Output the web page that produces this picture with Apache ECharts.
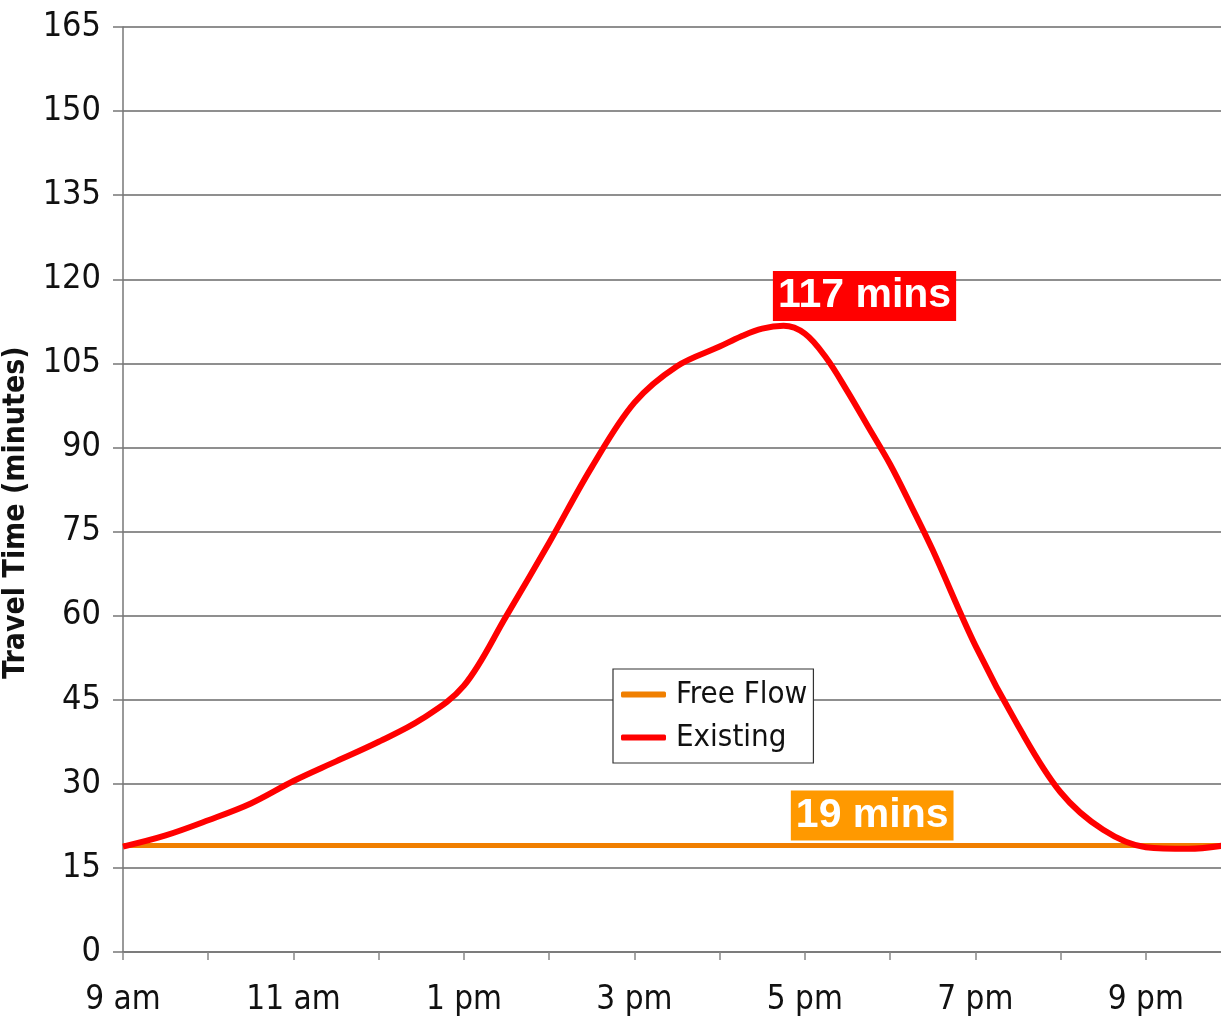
<!DOCTYPE html>
<html>
<head>
<meta charset="utf-8">
<title>Travel Time</title>
<script src="https://cdn.jsdelivr.net/npm/echarts@6/dist/echarts.min.js"></script>
<style>
  html, body { margin: 0; padding: 0; background: #ffffff; }
  #chart { width: 1221px; height: 1019px; }
</style>
</head>
<body>
<div id="chart"></div>
<script>
// Hour of day (24h clock) for each sample of the existing travel-time curve
const hours = [9, 9.5, 10, 10.5, 11, 11.5, 12, 12.5, 13, 13.5, 14, 14.5, 15, 15.5,
  16, 16.25, 16.5, 16.75, 17, 17.25, 17.5, 17.75, 18, 18.25, 18.5, 19, 19.5, 20, 20.5, 21, 21.5, 22];
// Existing travel time, minutes
const existingMins = [18.8, 20.8, 23.5, 26.5, 30.5, 34, 37.5, 41.5, 47.5, 60, 73, 86.5, 98, 104.5,
  108, 109.8, 111.2, 111.7, 110.3, 106, 100, 93.5, 87, 79.5, 71.7, 54.7, 40.4, 28.5, 21.8, 18.7, 18.4, 19.2];
// Free-flow travel time, minutes (constant through the day)
const freeFlowHours = [9, 22];
const freeFlowMins = 19;
// Peak travel time quoted in the callout
const peakMins = 117;

// Labelled hours on the time axis
const labelHours = [9, 11, 13, 15, 17, 19, 21];
const labelTexts = ['9 am', '11 am', '1 pm', '3 pm', '5 pm', '7 pm', '9 pm'];

const narrow = '"Liberation Sans Narrow", "DejaVu Sans Condensed", "Liberation Sans", sans-serif';
const boldSans = '"Liberation Sans", Arial, sans-serif';

const chart = echarts.init(document.getElementById('chart'), null, { renderer: 'canvas' });

const calloutLabel = (bg) => ({
  show: true,
  formatter: '{c} mins',
  fontFamily: boldSans,
  fontWeight: 'bold',
  fontSize: 41,
  lineHeight: 44,
  color: '#ffffff',
  backgroundColor: bg,
  padding: [3, 5, 3, 5]
});

chart.setOption({
  animation: false,
  backgroundColor: '#ffffff',
  grid: { left: 123, right: -10, top: 27, bottom: 67, containLabel: false, outerBoundsMode: 'none' },
  xAxis: {
    type: 'value',
    min: 9,
    max: 22,
    interval: 1,
    axisLine: { show: true, lineStyle: { color: '#777', width: 1.5 } },
    axisTick: { show: true, length: 8, lineStyle: { color: '#888', width: 1.5 } },
    splitLine: { show: false },
    axisLabel: {
      margin: 32,
      fontFamily: narrow,
      fontSize: 33,
      color: '#111',
      formatter: function (v) {
        const i = labelHours.indexOf(v);
        return i >= 0 ? labelTexts[i] : '';
      }
    }
  },
  yAxis: {
    type: 'value',
    min: 0,
    max: 165,
    interval: 15,
    name: 'Travel Time (minutes)',
    nameLocation: 'middle',
    nameGap: 92,
    nameRotate: 90,
    nameTextStyle: {
      fontFamily: narrow, fontWeight: 'bold', fontSize: 30, color: '#111',
      padding: [0, 46, 0, 0]
    },
    axisLine: { show: true, lineStyle: { color: '#777', width: 1.5 } },
    axisTick: { show: true, length: 10, lineStyle: { color: '#777', width: 1.5 } },
    splitLine: { show: true, lineStyle: { color: '#6a6a6a', width: 1.5 } },
    axisLabel: { margin: 22, fontFamily: narrow, fontSize: 34, color: '#111' }
  },
  legend: {
    data: ['Free Flow', 'Existing'],
    orient: 'vertical',
    left: 613,
    top: 669,
    padding: [10, 6, 10, 8],
    itemGap: 12,
    itemWidth: 45,
    itemHeight: 6,
    icon: 'roundRect',
    borderColor: '#333',
    borderWidth: 1.2,
    backgroundColor: '#ffffff',
    textStyle: { fontFamily: narrow, fontSize: 31, color: '#111', padding: [0, 0, 0, 5] }
  },
  series: [
    {
      name: 'Free Flow',
      type: 'line',
      data: freeFlowHours.map(h => [h, freeFlowMins]),
      showSymbol: false,
      symbol: 'none',
      lineStyle: { color: '#F07F00', width: 5 },
      itemStyle: { color: '#F07F00' },
      z: 2,
      markPoint: {
        symbol: 'rect',
        symbolSize: 0,
        data: [{ coord: [17.79, freeFlowMins], value: freeFlowMins }],
        label: Object.assign(calloutLabel('#FF9900'), { position: 'top', distance: 5 })
      }
    },
    {
      name: 'Existing',
      type: 'line',
      data: hours.map((h, i) => [h, existingMins[i]]),
      smooth: 0.35,
      showSymbol: false,
      symbol: 'none',
      lineStyle: { color: '#FF0000', width: 6 },
      itemStyle: { color: '#FF0000' },
      z: 3,
      markPoint: {
        symbol: 'rect',
        symbolSize: 0,
        data: [{ coord: [17.7, peakMins], value: peakMins }],
        label: Object.assign(calloutLabel('#FF0000'), { position: 'inside' })
      }
    }
  ]
});
</script>
</body>
</html>
